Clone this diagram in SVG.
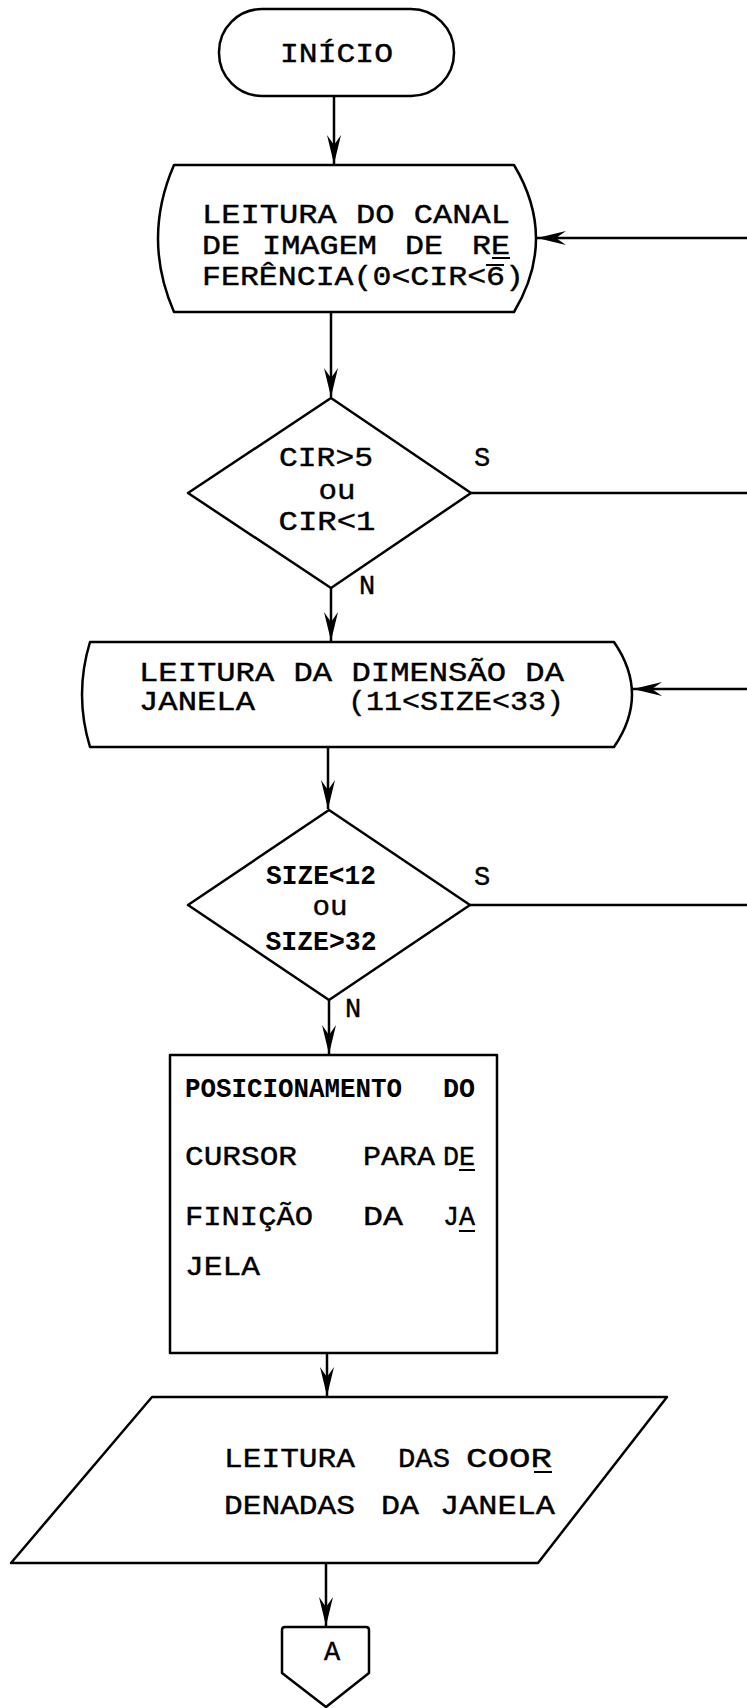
<svg xmlns="http://www.w3.org/2000/svg" width="747" height="1708" viewBox="0 0 747 1708">
<style>
.s{fill:#fff;stroke:#000;stroke-width:2.5;stroke-linejoin:round}
.c{fill:none;stroke:#000;stroke-width:2.5}
.t{font-family:"Liberation Mono","DejaVu Sans Mono",monospace;font-size:27px;fill:#000;stroke:#000;stroke-width:0.4}
.b{font-family:"Liberation Mono","DejaVu Sans Mono",monospace;font-size:27px;font-weight:bold;fill:#000}
.m{text-anchor:middle}
.u{stroke:#000;stroke-width:2}
</style>
<defs>
<marker id="ah" viewBox="-30 -8 31 16" refX="0" refY="0" markerWidth="31" markerHeight="16" markerUnits="userSpaceOnUse" orient="auto">
<path d="M0,0 L-29,-7 L-19,0 L-29,7 Z" fill="#000"/>
</marker>
</defs>
<rect width="747" height="1708" fill="#fff"/>
<g id="connectors">
<path class="c" d="M334,96 V164" marker-end="url(#ah)"/>
<path class="c" d="M331,312 V397" marker-end="url(#ah)"/>
<path class="c" d="M331,588 V641" marker-end="url(#ah)"/>
<path class="c" d="M328,747 V809" marker-end="url(#ah)"/>
<path class="c" d="M329,1000 V1054" marker-end="url(#ah)"/>
<path class="c" d="M327,1353 V1396" marker-end="url(#ah)"/>
<path class="c" d="M326,1563 V1626" marker-end="url(#ah)"/>
<path class="c" d="M747,238 H537" marker-end="url(#ah)"/>
<path class="c" d="M471,493 H747"/>
<path class="c" d="M747,689 H633" marker-end="url(#ah)"/>
<path class="c" d="M470,905 H747"/>
<text class="t" x="474" y="466">S</text>
<text class="t" x="359" y="594">N</text>
<text class="t" x="474" y="885">S</text>
<text class="t" x="345" y="1017">N</text>
</g>
<g id="inicio">
<rect class="s" x="219" y="9" width="235" height="87" rx="43" ry="43"/>
<text class="t" x="280" y="62" textLength="113" lengthAdjust="spacingAndGlyphs">INÍCIO</text>
</g>
<g id="leitura-canal">
<path class="s" d="M174,165 H514 Q558,238.5 514,312 H174 Q142,238.5 174,165 Z"/>
<text class="t" x="202" y="223" textLength="308" lengthAdjust="spacingAndGlyphs">LEITURA DO CANAL</text>
<text class="t" y="254"><tspan x="202" textLength="38" lengthAdjust="spacingAndGlyphs">DE</tspan><tspan x="262" textLength="115" lengthAdjust="spacingAndGlyphs">IMAGEM</tspan><tspan x="405" textLength="38" lengthAdjust="spacingAndGlyphs">DE</tspan><tspan x="472" textLength="38" lengthAdjust="spacingAndGlyphs">RE</tspan></text>
<text class="t" x="202" y="285" textLength="322" lengthAdjust="spacingAndGlyphs">FERÊNCIA(0&lt;CIR&lt;6)</text>
<line class="u" x1="492" y1="258" x2="510" y2="258"/>
<line class="u" x1="486" y1="265" x2="504" y2="265"/>
</g>
<g id="decisao-cir">
<path class="s" d="M331,398 L471,493 L331,588 L188,493 Z"/>
<text class="t m" x="326" y="466" textLength="94" lengthAdjust="spacingAndGlyphs">CIR&gt;5</text>
<text class="t m" x="337" y="499" textLength="37" lengthAdjust="spacingAndGlyphs">ou</text>
<text class="t m" x="327" y="530" textLength="97" lengthAdjust="spacingAndGlyphs">CIR&lt;1</text>
</g>
<g id="leitura-dimensao">
<path class="s" d="M90,642 H614 Q650,694.5 614,747 H90 Q74,694.5 90,642 Z"/>
<text class="t" x="139" y="681" textLength="425" lengthAdjust="spacingAndGlyphs">LEITURA DA DIMENSÃO DA</text>
<text class="t" y="710"><tspan x="139" textLength="116" lengthAdjust="spacingAndGlyphs">JANELA</tspan><tspan x="348" textLength="216" lengthAdjust="spacingAndGlyphs">(11&lt;SIZE&lt;33)</tspan></text>
</g>
<g id="decisao-size">
<path class="s" d="M329,810 L470,905 L329,1000 L188,905 Z"/>
<text class="b m" x="321" y="884" textLength="110" lengthAdjust="spacingAndGlyphs">SIZE&lt;12</text>
<text class="t m" x="330" y="915" textLength="35" lengthAdjust="spacingAndGlyphs">ou</text>
<text class="b m" x="321" y="950" textLength="111" lengthAdjust="spacingAndGlyphs">SIZE&gt;32</text>
</g>
<g id="posicionamento">
<rect class="s" x="170" y="1055" width="327" height="298"/>
<text class="b" y="1097"><tspan x="185" textLength="217" lengthAdjust="spacingAndGlyphs">POSICIONAMENTO</tspan><tspan x="443" textLength="32" lengthAdjust="spacingAndGlyphs">DO</tspan></text>
<text class="t" y="1165"><tspan x="185" textLength="112" lengthAdjust="spacingAndGlyphs">CURSOR</tspan><tspan x="363" textLength="72" lengthAdjust="spacingAndGlyphs">PARA</tspan><tspan x="443" textLength="32" lengthAdjust="spacingAndGlyphs">DE</tspan></text>
<text class="t" y="1225"><tspan x="185" textLength="128" lengthAdjust="spacingAndGlyphs">FINIÇÃO</tspan><tspan x="363" textLength="40" lengthAdjust="spacingAndGlyphs">DA</tspan><tspan x="443" textLength="32" lengthAdjust="spacingAndGlyphs">JA</tspan></text>
<text class="t" x="185" y="1275" textLength="75" lengthAdjust="spacingAndGlyphs">JELA</text>
<line class="u" x1="459" y1="1170" x2="475" y2="1170"/>
<line class="u" x1="459" y1="1231" x2="475" y2="1231"/>
</g>
<g id="leitura-coordenadas">
<path class="s" d="M152,1397 H667 L538,1563 H11 Z"/>
<text class="t" y="1467"><tspan x="224" textLength="131" lengthAdjust="spacingAndGlyphs">LEITURA</tspan><tspan x="398" textLength="52" lengthAdjust="spacingAndGlyphs">DAS</tspan><tspan x="466" textLength="86" lengthAdjust="spacingAndGlyphs">COOR</tspan></text>
<text class="t" y="1514"><tspan x="224" textLength="131" lengthAdjust="spacingAndGlyphs">DENADAS</tspan><tspan x="381" textLength="38" lengthAdjust="spacingAndGlyphs">DA</tspan><tspan x="440" textLength="115" lengthAdjust="spacingAndGlyphs">JANELA</tspan></text>
<line class="u" x1="534" y1="1472" x2="552" y2="1472"/>
</g>
<g id="conector-a">
<path class="s" d="M285,1627 H366 Q369,1627 369,1630 V1673 L326,1707 L282,1673 V1630 Q282,1627 285,1627 Z"/>
<text class="t m" x="332" y="1660">A</text>
</g>
</svg>
